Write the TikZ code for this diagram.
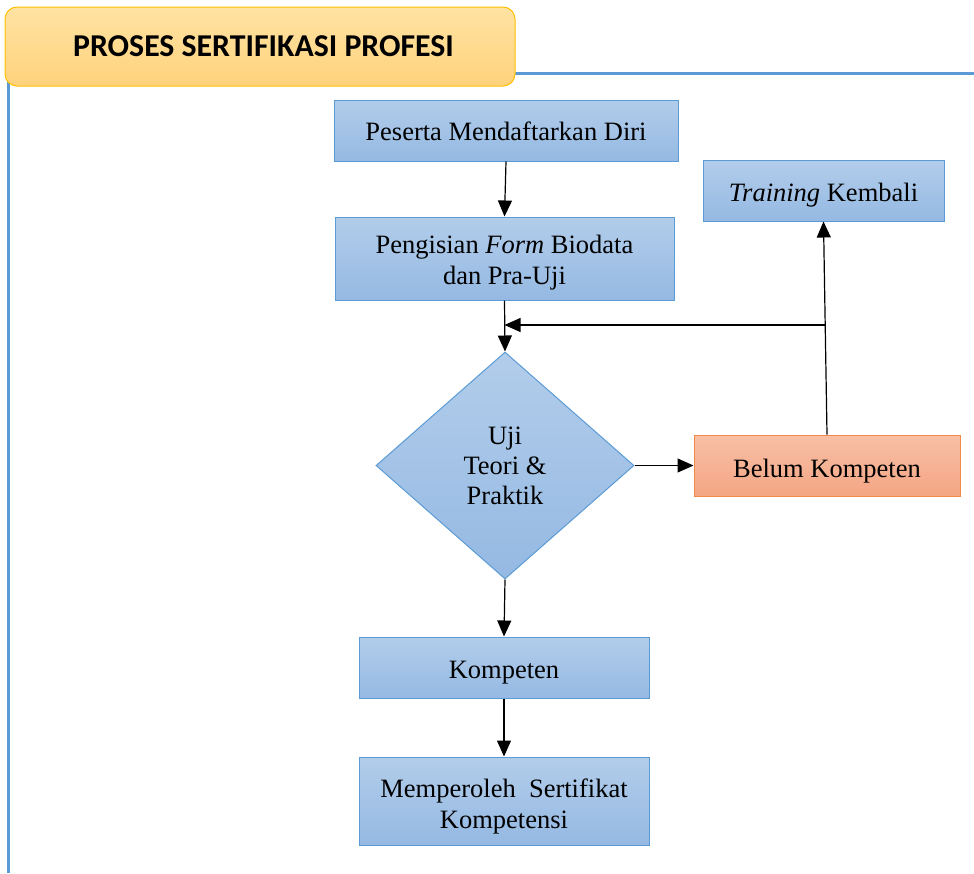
\documentclass[tikz,border=0pt]{standalone}
\usepackage{fontspec}
\setmainfont{Liberation Serif}
\newfontfamily\titlefont{Carlito}
\usetikzlibrary{arrows.meta,shapes.geometric}
\definecolor{bluetop}{HTML}{B2CDEA}
\definecolor{bluebot}{HTML}{95B9E3}
\definecolor{blueline}{HTML}{5B9BD5}
\definecolor{orangetop}{HTML}{F8BFA5}
\definecolor{orangebot}{HTML}{F4A684}
\definecolor{orangeline}{HTML}{F08A4B}
\definecolor{goldtop}{HTML}{FFE3A3}
\definecolor{goldbot}{HTML}{FFD27C}
\definecolor{goldline}{HTML}{FFC000}
\newcommand{\lowtext}[2][4.5pt]{\raisebox{-#1}[\height][\depth]{\begin{tabular}{@{}c@{}}#2\end{tabular}}}
\begin{document}
\begin{tikzpicture}[x=1pt,y=-1pt,
  stepbox/.style={draw=blueline, line width=1pt, top color=bluetop, bottom color=bluebot,
    inner sep=0pt, font=\fontsize{26.5}{31}\selectfont},
  failbox/.style={stepbox, draw=orangeline, top color=orangetop, bottom color=orangebot},
  arr/.style={line width=1.2pt, -{Triangle[length=16pt,width=14pt]}},
  frameline/.style={blueline, line width=3pt}
]
\useasboundingbox (0,0) rectangle (974,873);
% frame
\coordinate (fa) at (8,873);
\coordinate (fc) at (8,73);
\coordinate (fd) at (974,73);
\draw[frameline] (fa) -- (fc) -- (fd);
% title
\node[draw=goldline, line width=1pt, rounded corners=12pt, top color=goldtop, bottom color=goldbot,
  minimum width=510pt, minimum height=79pt, inner sep=0pt,
  font=\titlefont\bfseries\fontsize{31.8}{36}\selectfont] (title) at (260,46.5) {\hspace*{7pt}PROSES SERTIFIKASI PROFESI};
% nodes
\node[stepbox, minimum width=344pt, minimum height=61pt] (b1) at (506,130.5) {\lowtext[3.5pt]{Peserta Mendaftarkan Diri}};
\node[stepbox, minimum width=339pt, minimum height=83pt] (b2) at (504.5,258.5) {\lowtext{Pengisian \textit{Form} Biodata\\dan Pra-Uji}};
\node[stepbox, minimum width=241pt, minimum height=61pt] (train) at (823.5,190.5) {\lowtext{\textit{Training} Kembali}};
\node[stepbox, shape=diamond, aspect=1.136, minimum width=258pt, minimum height=227pt,
  font=\fontsize{26.5}{30}\selectfont] (dia) at (505,465.5) {\lowtext[3pt]{Uji\\Teori \&\\Praktik}};
\node[failbox, minimum width=266pt, minimum height=61pt] (belum) at (827,465.5) {\lowtext[5.5pt]{Belum Kompeten}};
\node[stepbox, minimum width=290pt, minimum height=61pt] (komp) at (504,667.5) {\lowtext[5pt]{Kompeten}};
\node[stepbox, minimum width=290pt, minimum height=88pt] (cert) at (504,801) {\lowtext[5.5pt]{Memperoleh\ \ Sertifikat\\Kompetensi}};
% connectors
\draw[arr] (b1.south) -- (b2.north);
\draw[arr] (b2.south) -- (dia.north);
\draw[arr] (dia.east) -- (belum.west);
\draw[arr] (dia.south) -- (komp.north);
\draw[arr] (komp.south) -- (cert.north);
\draw[arr] (belum.north) -- (train.south);
\coordinate (fb) at (826,325);
\draw[arr] (fb) -- (b2.south |- fb);
\end{tikzpicture}
\end{document}
